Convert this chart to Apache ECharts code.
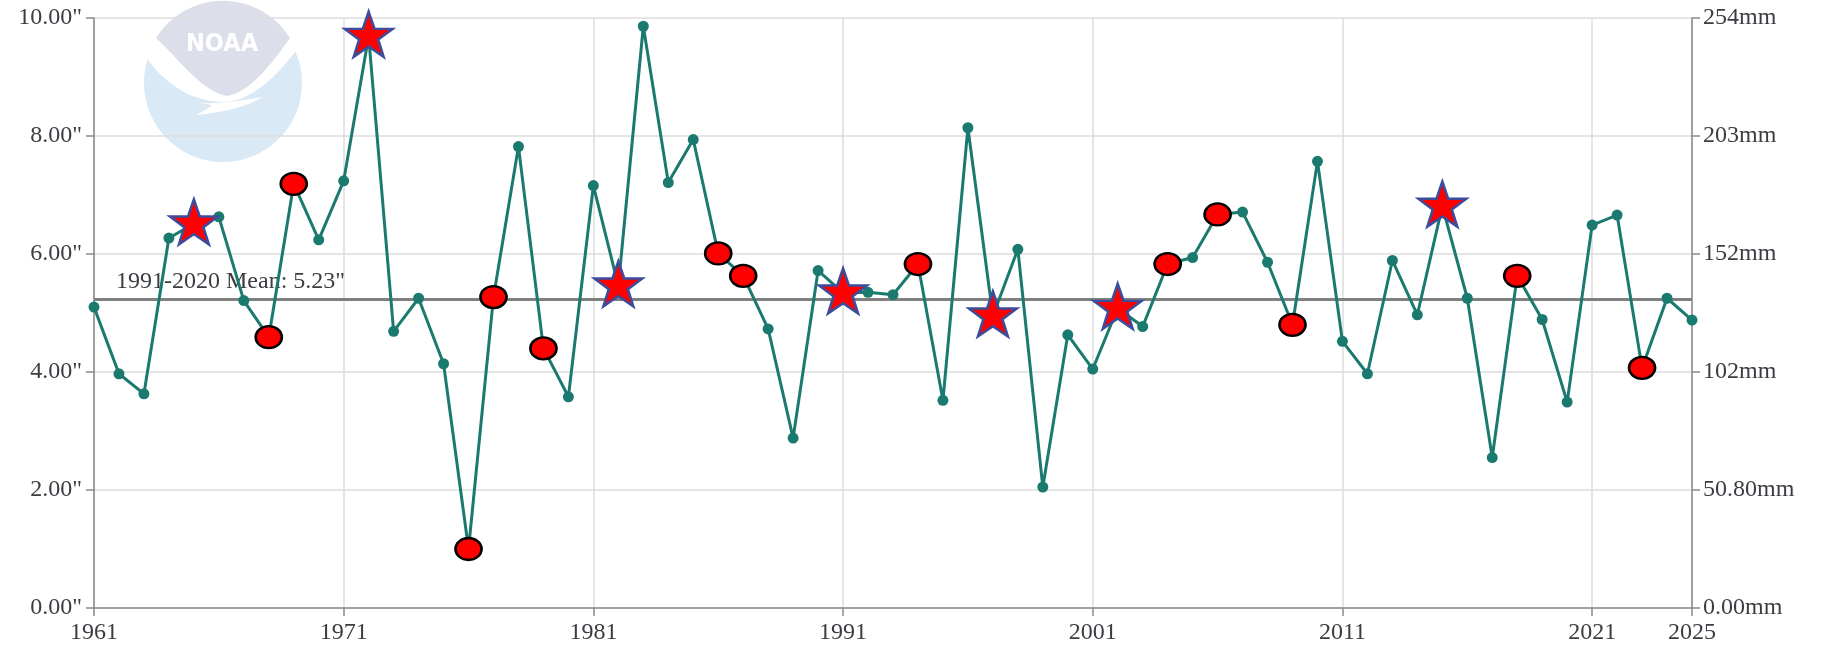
<!DOCTYPE html>
<html>
<head>
<meta charset="utf-8">
<script src="https://cdn.jsdelivr.net/npm/echarts@6/dist/echarts.min.js"></script>
<style>
  html, body { margin: 0; padding: 0; background: #fff; }
  #chart { width: 1821px; height: 653px; }
</style>
</head>
<body>
<div id="chart"></div>
<script>
  // years on the x axis
  var years = []
  for (var y = 1961; y <= 2025; y++) years.push(String(y))

  // precipitation, inches, one value per year 1961..2025
  var precip = [
    5.10, 3.97, 3.63, 6.27, 6.51, 6.63, 5.21, 4.59, 7.19, 6.24,
    7.24, 9.69, 4.69, 5.25, 4.14, 1.00, 5.27, 7.82, 4.40, 3.58,
    7.16, 5.46, 9.86, 7.21, 7.94, 6.01, 5.63, 4.73, 2.88, 5.72,
    5.34, 5.35, 5.31, 5.83, 3.52, 8.14, 4.95, 6.08, 2.05, 4.63,
    4.05, 5.08, 4.77, 5.83, 5.94, 6.67, 6.71, 5.86, 4.80, 7.57,
    4.52, 3.97, 5.89, 4.97, 6.81, 5.25, 2.55, 5.63, 4.89, 3.49,
    6.49, 6.66, 4.07, 5.25, 4.88
  ]

  // years flagged with red circles / stars
  var circleYears = [1968, 1969, 1976, 1977, 1979, 1986, 1987, 1994, 2004, 2006, 2009, 2018, 2023]
  var starYears = [1965, 1972, 1982, 1991, 1997, 2002, 2015]

  var meanValue = 5.23
  var meanLabel = '1991-2020 Mean: 5.23"'
  var mmLabels = ['0.00mm', '50.80mm', '102mm', '152mm', '203mm', '254mm']

  var starPath = 'path://M50,0 L62,35 L99,35 L69.5,57 L80.5,92 L50,71 L19.5,92 L30.5,57 L1,35 L38,35 Z'
  var serif = "'Liberation Serif', 'Times New Roman', serif"
  var teal = '#1b7a6f'
  var axisGray = '#8a8a8a'
  var labelColor = '#3a3d42'

  // faded NOAA logo, drawn as a small inline svg
  var logoSvg =
    '<svg xmlns="http://www.w3.org/2000/svg" width="170" height="170" viewBox="138 0 170 170">' +
    '<circle cx="223" cy="83" r="79" fill="#d9e9f6"/>' +
    '<path d="M156,38 A79,79 0 0 1 290,38 C274,60 252,92 227,96 C202,92 180,60 156,38 Z" fill="#dcdfe9"/>' +
    '<path d="M145,56 C168,88 195,102 225,102 C250,101 276,78 298,48 L290,38 C274,60 252,92 227,96 C202,92 180,60 156,38 Z" fill="#ffffff"/>' +
    '<path d="M200,103 C225,104 250,99 262,97 C250,106 222,113 196,115 C206,110 210,107 212,105 Z" fill="#ffffff"/>' +
    '<text x="222" y="51" text-anchor="middle" font-family="DejaVu Sans Condensed, DejaVu Sans, sans-serif" font-weight="bold" font-size="25" fill="#ffffff">NOAA</text>' +
    '</svg>'

  function pick(list) {
    return list.map(function (yr) {
      return [String(yr), precip[yr - 1961]]
    })
  }
  function showYear(index) {
    return index % 10 === 0 || index === years.length - 1
  }

  var chart = echarts.init(document.getElementById('chart'))
  var option = {
    animation: false,
    grid: { left: 94, right: 129, top: 18, bottom: 45, containLabel: false },
    graphic: [
      {
        type: 'image', z: -10, x: 138, y: 0,
        style: { image: 'data:image/svg+xml;charset=utf-8,' + encodeURIComponent(logoSvg), width: 170, height: 170 }
      }
    ],
    xAxis: {
      type: 'category',
      boundaryGap: false,
      data: years,
      axisLine: { lineStyle: { color: axisGray, width: 1.5 } },
      axisTick: { show: true, interval: showYear, length: 8, lineStyle: { color: axisGray, width: 1.5 } },
      axisLabel: { interval: showYear, margin: 13, color: labelColor, fontFamily: serif, fontSize: 24 },
      splitLine: { show: true, interval: showYear, lineStyle: { color: '#dddddd', width: 1.5 } }
    },
    yAxis: [
      {
        type: 'value', min: 0, max: 10, interval: 2,
        axisLine: { show: true, lineStyle: { color: axisGray, width: 1.5 } },
        axisTick: { show: true, length: 8, lineStyle: { color: axisGray, width: 1.5 } },
        axisLabel: {
          margin: 12, color: labelColor, fontFamily: serif, fontSize: 24,
          formatter: function (v) { return v.toFixed(2) + '"' }
        },
        splitLine: { show: true, lineStyle: { color: '#dddddd', width: 1.5 } }
      },
      {
        type: 'value', min: 0, max: 10, interval: 2, position: 'right',
        axisLine: { show: true, lineStyle: { color: axisGray, width: 1.5 } },
        axisTick: { show: true, length: 8, lineStyle: { color: axisGray, width: 1.5 } },
        axisLabel: {
          margin: 11, color: labelColor, fontFamily: serif, fontSize: 24,
          formatter: function (v) { return mmLabels[Math.round(v / 2)] }
        },
        splitLine: { show: false }
      }
    ],
    series: [
      {
        name: 'Precipitation',
        type: 'line',
        data: precip,
        z: 3,
        symbol: 'circle',
        symbolSize: 11,
        lineStyle: { color: teal, width: 3 },
        itemStyle: { color: teal },
        markLine: {
          silent: true,
          symbol: ['none', 'none'],
          z: 2,
          lineStyle: { color: '#808080', width: 3, type: 'solid' },
          label: {
            position: 'insideStartTop',
            distance: [22, 6],
            formatter: meanLabel,
            color: labelColor,
            fontFamily: serif,
            fontSize: 24
          },
          data: [{ yAxis: meanValue }]
        }
      },
      {
        name: 'circles',
        type: 'scatter',
        data: pick(circleYears),
        z: 4,
        symbol: 'circle',
        symbolSize: [26, 22],
        itemStyle: { color: '#ff0000', borderColor: '#000000', borderWidth: 2.5, opacity: 1 }
      },
      {
        name: 'stars',
        type: 'scatter',
        data: pick(starYears),
        z: 4,
        symbol: starPath,
        symbolSize: [48, 45],
        symbolOffset: [0, -2],
        itemStyle: { color: '#ff0000', borderColor: '#3b4d9c', borderWidth: 2.5, opacity: 1 }
      }
    ]
  }
  chart.setOption(option)
</script>
</body>
</html>
